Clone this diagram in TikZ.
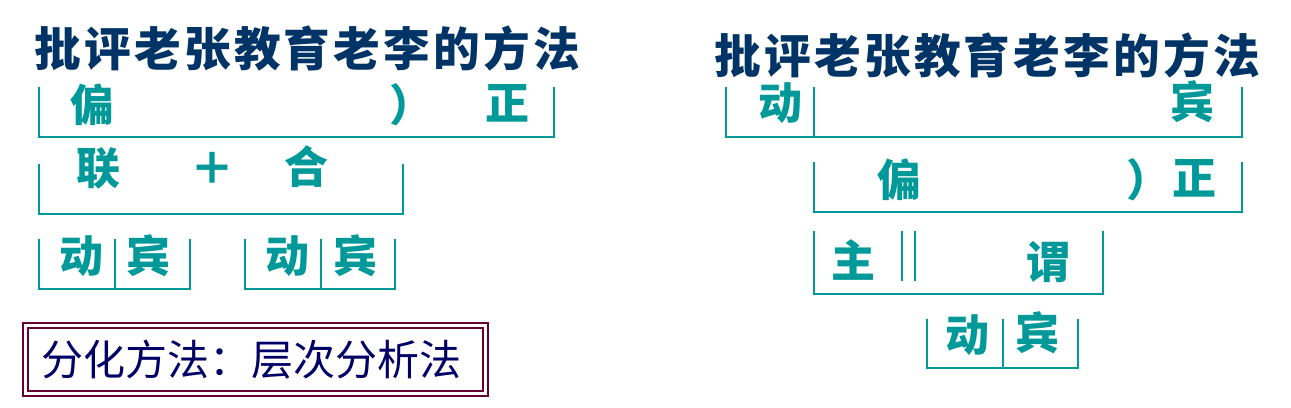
\documentclass[tikz,border=0pt]{standalone}
\usepackage{fontspec}
\usepackage{xcolor}
\usepackage{tikz}
\newfontfamily\cjk{Noto Sans CJK SC}
\newfontfamily\cjktitle{Noto Sans CJK SC}[LetterSpace=7]
\definecolor{segteal}{RGB}{0,153,153}
\definecolor{titleblue}{RGB}{0,51,102}
\definecolor{boxred}{RGB}{102,0,51}
\definecolor{boxtext}{RGB}{0,0,102}

\begin{document}
\begin{tikzpicture}[x=0.75pt,y=-0.75pt,
  seg/.style={text=segteal,font=\cjk\bfseries\fontsize{33pt}{33pt}\selectfont,inner sep=0pt},
  ttl/.style={text=titleblue,font=\cjktitle\bfseries\fontsize{35pt}{35pt}\selectfont,inner sep=0pt,anchor=west},
  brk/.style={draw=segteal,line width=2.2pt},
  method/.style={draw=boxred,line width=1.5pt,double=white,double distance=2pt,
    minimum width=345pt,minimum height=51pt,inner xsep=12pt,text width=321pt,align=left,
    text=boxtext,font=\cjk\fontsize{31.5pt}{31.5pt}\selectfont}]
\useasboundingbox (0,0) rectangle (1291,407);
% left: titles and segments
\node[ttl] (t1) at (34,48) {批评老张教育老李的方法};
\node[seg] (l1) at (92,105) {偏};
\node[seg] (l2) at (411,105) {）};
\node[seg] (l3) at (507,103) {正};
\node[seg] (l4) at (98,168) {联};
\node[seg] (l5) at (212,168) {＋};
\node[seg] (l6) at (306,167) {合};
\node[seg] (l7) at (81,256) {动};
\node[seg] (l8) at (148,256) {宾};
\node[seg] (l9) at (287,256) {动};
\node[seg] (l10) at (355,256) {宾};
\draw[brk] (39,87) |- (554,137) -- (554,87);
\draw[brk] (39,164) |- (403,214) -- (403,164);
\draw[brk] (39,239) |- (190,289) -- (190,239);
\draw[brk] (115,239) -- (115,289);
\draw[brk] (245,239) |- (395,289) -- (395,239);
\draw[brk] (321,239) -- (321,289);
\node[method] (m1) at (255.5,359.5) {分化方法：层次分析法};
% right
\node[ttl] (t2) at (714,55) {批评老张教育老李的方法};
\node[seg] (r1) at (780,103) {动};
\node[seg] (r2) at (1192,102) {宾};
\node[seg] (r3) at (899,180) {偏};
\node[seg] (r4) at (1148,180) {）};
\node[seg] (r5) at (1194,178) {正};
\node[seg] (r6) at (853,260) {主};
\node[seg] (r7) at (1048,262) {谓};
\node[seg] (r8) at (967,335) {动};
\node[seg] (r9) at (1037,333) {宾};
\draw[brk] (726,87) |- (1242,137) -- (1242,87);
\draw[brk] (814,87) -- (814,137);
\draw[brk] (814,162) |- (1242,212) -- (1242,162);
\draw[brk] (814,231) |- (1103,294) -- (1103,231);
\draw[brk] (902,231) -- (902,281);
\draw[brk] (915,231) -- (915,281);
\draw[brk] (927,319) |- (1078,368) -- (1078,319);
\draw[brk] (1003,319) -- (1003,368);
\end{tikzpicture}
\end{document}
